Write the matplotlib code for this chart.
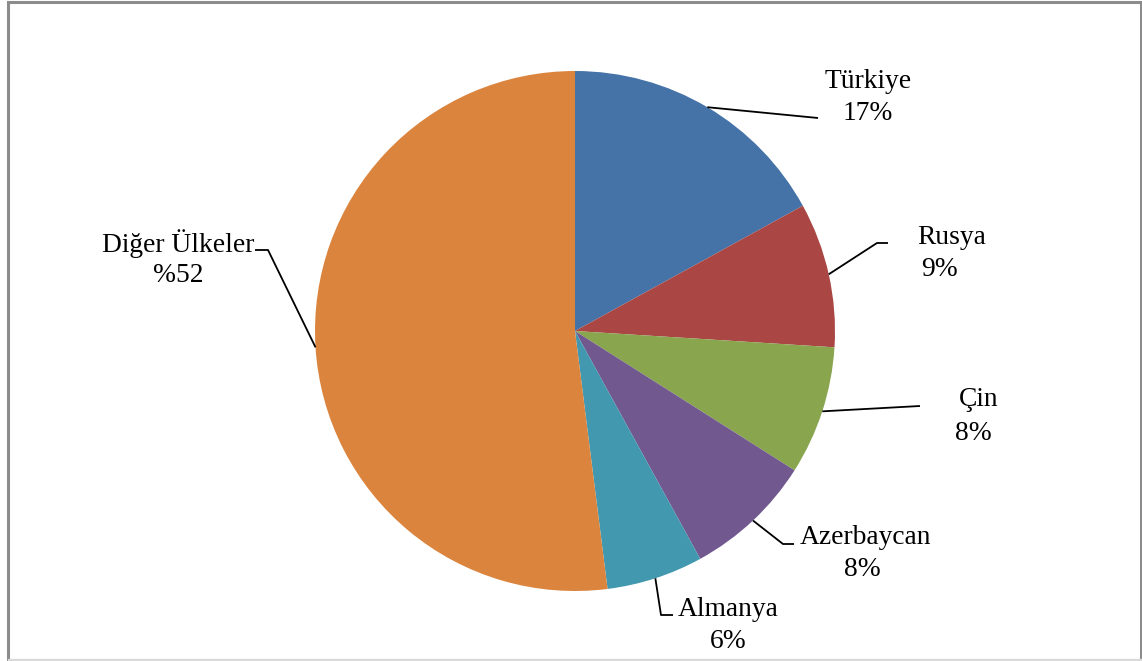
import numpy as np
import matplotlib
matplotlib.use("Agg")
import matplotlib.pyplot as plt
from matplotlib.patches import Rectangle
from matplotlib.lines import Line2D

# ---- data ----
countries = ["Türkiye", "Rusya", "Çin", "Azerbaycan", "Almanya", "Diğer Ülkeler"]
shares = [17, 9, 8, 8, 6, 52]
pct_labels = ["17%", "9%", "8%", "8%", "6%", "%52"]
colors = ["#4572A7", "#AA4643", "#89A54E", "#71588F", "#4198AF", "#DB843D"]

W, H = 1142, 661
fig = plt.figure(figsize=(W / 100, H / 100), dpi=100)
ax = fig.add_axes([0, 0, 1, 1])
ax.set_xlim(0, W)
ax.set_ylim(0, H)
ax.set_aspect("equal")
ax.axis("off")

def Y(y):  # image row -> data y
    return H - y

cx, cy, R = 575, Y(331), 260
wedges, _ = ax.pie(shares, colors=colors, startangle=90, counterclock=False,
                   center=(cx, cy), radius=R, frame=True,
                   wedgeprops=dict(linewidth=0))
ax.set_xlim(0, W)
ax.set_ylim(0, H)
ax.axis("off")

# border (gray left/top/right, light gray bottom)
fig.patches.append(Rectangle((8 / W, 0.5 / H), (W - 9.5) / W, (H - 2) / H,
                             transform=fig.transFigure, fill=False,
                             edgecolor="#8c8c8c", linewidth=2.2))
fig.lines.append(Line2D([8.5 / W, (W - 1.5) / W], [1.2 / H, 1.2 / H],
                        transform=fig.transFigure, color="#d9d9d9", lw=2.4))

# label layout (image pixel coords): name pos, pct pos, leader path after edge
name_pos = [(868, 82), (952, 238), (979, 400), (865, 538), (728, 609), (178, 244)]
pct_pos = [(868, 113), (939, 270), (973, 433), (862, 570), (728, 641), (178, 276)]
leader = [
    [(818, 118)],
    [(877, 243), (888, 243)],
    [(920, 406)],
    [(783, 544), (794, 544)],
    [(661, 615), (673, 615)],
    [(268, 250), (255, 250)],
]

fs = 19.8
font = dict(family=["Liberation Serif", "DejaVu Serif"], fontsize=fs, color="black")
for w, name, pct, npos, ppos, path in zip(wedges, countries, pct_labels,
                                          name_pos, pct_pos, leader):
    ang = np.deg2rad((w.theta1 + w.theta2) / 2)
    sx, sy = cx + R * np.cos(ang), cy + R * np.sin(ang)
    xs = [sx] + [p[0] for p in path]
    ys = [sy] + [Y(p[1]) for p in path]
    ax.plot(xs, ys, color="black", lw=1.3, solid_capstyle="butt")
    ax.text(npos[0], Y(npos[1]), name, ha="center", va="center", **font)
    ax.text(ppos[0], Y(ppos[1]), pct, ha="center", va="center", **font)

fig.savefig("out.png", dpi=100)
